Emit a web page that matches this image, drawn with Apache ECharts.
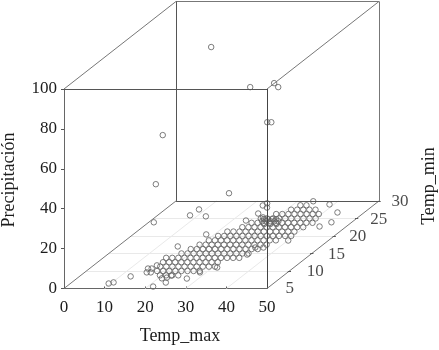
<!DOCTYPE html>
<html><head><meta charset="utf-8">
<style>html,body{margin:0;padding:0;background:#fff}#c{width:439px;height:350px}</style>
<script src="https://cdn.jsdelivr.net/npm/echarts@6/dist/echarts.min.js"></script>
</head><body><div id="c"></div>
<script>
const xTicks = [0,10,20,30,40,50];
const yTicks = [0,20,40,60,80,100];
const zTicks = [5,10,15,20,25,30];
// isolated observations: Temp_max, Temp_min, Precipitacion
const soloMax = [21.9,29.3,35.2,36.2,33.5,34.5,18.8,17.1,29.6,16.6,20,18.9,23.9,27.3,22.5,9.9,11.1,13.1,21.4,27.5,
  20.9,21.9,23.2,22.3,14.4,15.3,15.3,16.3,15.6,28.4,31.1,33.9,38.9,43.4,45,43.4,22.8,23.2,24.5,24.2,26.6,23.4,40.1,36.2,34.2,34.4];
const soloMin = [18,20,20,20,20,20,10,10,15,10,15,18,15,12,10,6,6,8,5.5,7.5,
  7.9,8.1,6.7,8.7,10.7,10.7,9.6,9.6,11.6,9.6,11,29.9,29,26.7,23.9,22.7,28.7,29.3,28.1,26.4,25.3,24.4,18.7,16.7,16.7,14.7];
const soloRain = [98.2,74.6,76.6,74.6,57,57,68.1,43.5,30.2,24.4,19.1,16.8,18.6,14.8,12.3,0.75,1.3,0.8,0.1,0.6,
  0,0,0,0,0,0,0,0,0,0,0,0,0,0,0,0,0,0,0,0,0,0,0,0,0,0];
// dry days, grouped by Temp_min
const dryMin = [8.75,10,11.25,12.5,13.75,15,16.25,17.5,18.75,20,21.25,22.5,23.75,25,26.25,27.5,28.75,24.2,24.8,23.4];
const dryMax = [
 [19.5,21,22.5,24],
 [17.4,18.9,20.4,21.9,23.4,24.9,26.4,27.9],
 [16.8,18.3,19.8,21.3,22.8,24.3,25.8,27.3,28.8,30.3],
 [16.1,17.6,19.1,20.6,22.1,23.6,25.1,26.6,28.1,29.6],
 [15.5,17,18.5,20,21.5,23,24.5,26,27.5,29,30.5,32,33.5],
 [17.9,19.4,20.9,22.4,23.9,25.4,26.9,28.4,29.9,31.4,32.9,34.4],
 [18.8,20.3,21.8,23.3,24.8,26.3,27.8,29.3,30.8,32.3,33.8,35.3],
 [19.6,21.1,22.6,24.1,25.6,27.1,28.6,30.1,31.6,33.1,34.6,36.1],
 [20.5,22,23.5,25,26.5,28,29.5,31,32.5,34,35.5,37],
 [21.4,22.9,24.4,25.9,27.4,28.9,30.4,31.9,33.4,34.9,36.4,37.9,39.4],
 [22.3,23.8,25.3,26.8,28.3,29.8,31.3,32.8,34.3,35.8,37.3,38.8],
 [24.6,26.1,27.6,29.1,30.6,32.1,33.6,35.1,36.6,38.1,39.6],
 [25.5,27,28.5,30,31.5,33,34.5,36,37.5,39,40.5],
 [26.4,27.9,29.4,30.9,32.4,33.9,35.4,36.9,38.4,39.9],
 [28.8,30.3,31.8,33.3,34.8,36.3,37.8,39.3],
 [31.1,32.6,34.1,35.6,37.1],
 [32,33.5],
 [27.6,28.6,29.6,30.6,31.6],
 [27.4,28.4,29.4,30.4],
 [29,30.5,32]
];
const FONT = '"Liberation Serif","Times New Roman",serif';
const INK = '#1c1c1c', SIZE = 17, TITLE = 18;
const Z0 = 5, KX = 27.6/25, KY = 43.9/25;
const proj = (x,y,z) => [x+(z-Z0)*KX, y+(z-Z0)*KY];

const pts = [];
soloMax.forEach((m,i)=>pts.push(proj(m,soloRain[i],soloMin[i])));
dryMin.forEach((t,i)=>dryMax[i].forEach(m=>pts.push(proj(m,0,t))));

const segment = (a,b,color) => [...proj(...a),...proj(...b),color];
const renderSeg = (params,api) => {
  let p = api.coord([api.value(0),api.value(1)]), q = api.coord([api.value(2),api.value(3)]);
  if (Math.abs(p[0]-q[0])<0.01) p[0]=q[0]=Math.round(p[0])+0.5;
  if (Math.abs(p[1]-q[1])<0.01) p[1]=q[1]=Math.round(p[1])+0.5;
  return {type:'line',shape:{x1:p[0],y1:p[1],x2:q[0],y2:q[1]},
    style:{stroke:api.value(4),lineWidth:1,fill:null}};
};
const lineSeries = (data,z) => ({type:'custom',silent:true,z,clip:false,animation:false,
  dimensions:['x1','y1','x2','y2',{name:'c',type:'ordinal'}],encode:{x:[0,2],y:[1,3]},renderItem:renderSeg,data});

const floor = [];
xTicks.slice(1,-1).forEach(x=>floor.push(segment([x,0,5],[x,0,30],'#e9e9e9')));
zTicks.slice(1,-1).forEach(t=>floor.push(segment([0,0,t],[50,0,t],'#e9e9e9')));
const frame = [
 segment([0,100,5],[50,100,5],'#555'),segment([50,0,5],[50,100,5],'#444'),
 segment([0,100,5],[0,100,30],'#777'),segment([0,100,30],[50,100,30],'#777'),segment([50,100,5],[50,100,30],'#777'),
 segment([0,0,30],[0,100,30],'#555'),segment([50,0,30],[50,100,30],'#777'),segment([0,0,30],[50,0,30],'#555'),
 segment([0,0,5],[0,0,30],'#777'),segment([50,0,5],[50,0,30],'#777')
];
zTicks.slice(1).forEach(t=>frame.push(segment([49.6,0,t],[50.4,0,t],'#555')));

const series = [
  lineSeries(floor,1),
  {type:'scatter',clip:false,silent:true,z:2,symbol:'circle',symbolSize:5.5,animation:false,
   itemStyle:{color:'rgba(0,0,0,0)',borderColor:'#666',borderWidth:1,opacity:0.85},data:pts},
  lineSeries(frame,3),
  {type:'scatter',clip:false,silent:true,z:4,symbol:'circle',symbolSize:1,animation:false,
   itemStyle:{color:'rgba(0,0,0,0)'},
   label:{show:true,position:'right',color:INK,fontFamily:FONT,fontSize:SIZE,formatter:p=>String(p.value[2])},
   data:zTicks.map((t,i)=>({value:[...proj(50,0,t),t],label:{distance:18-i*1.2,offset:[0,i===0?0:1]}}))}
];

const axisCommon = {type:'value',splitLine:{show:false},
  axisLine:{show:true,onZero:false,lineStyle:{color:'#666',width:1}},
  axisLabel:{color:INK,fontFamily:FONT,fontSize:SIZE}};
const title = (text,x,y,rotation)=>({type:'text',x,y,rotation,silent:true,
  style:{text,fill:INK,font:TITLE+'px '+FONT,textAlign:'center',textVerticalAlign:'middle'}});

const chart = echarts.init(document.getElementById('c'),null,{renderer:'canvas'});
chart.setOption({
  animation:false,backgroundColor:'#fff',
  grid:{left:64,top:89,width:203,height:199.5,containLabel:false},
  xAxis:Object.assign({},axisCommon,{min:0,max:50,interval:10,
    axisTick:{show:true,inside:true,length:2,lineStyle:{color:'#555'}},
    axisLabel:Object.assign({},axisCommon.axisLabel,{margin:11})}),
  yAxis:Object.assign({},axisCommon,{min:0,max:100,interval:20,
    axisTick:{show:true,inside:false,length:3,lineStyle:{color:'#555'}},
    axisLabel:Object.assign({},axisCommon.axisLabel,{margin:7})}),
  series,
  graphic:[
    title('Temp_max',180,336,0),
    title('Precipitación',9,180,Math.PI/2),
    title('Temp_min',429,186,Math.PI/2)
  ]
});
</script></body></html>
